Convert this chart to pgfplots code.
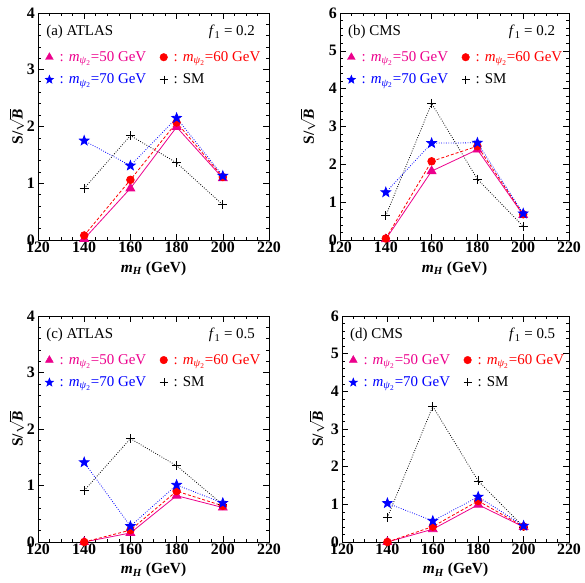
\documentclass[border=0pt]{standalone}
\usepackage{fontspec}
\setmainfont{Liberation Serif}
\usepackage{pgfplots}
\usepackage{pgfplotstable}
\pgfplotsset{compat=1.18}

% filled five-pointed star
\pgfdeclareplotmark{fstar}{%
  \pgfpathmoveto{\pgfpointpolar{90}{\pgfplotmarksize}}%
  \pgfpathlineto{\pgfpointpolar{126}{0.42\pgfplotmarksize}}%
  \pgfpathlineto{\pgfpointpolar{162}{\pgfplotmarksize}}%
  \pgfpathlineto{\pgfpointpolar{198}{0.42\pgfplotmarksize}}%
  \pgfpathlineto{\pgfpointpolar{234}{\pgfplotmarksize}}%
  \pgfpathlineto{\pgfpointpolar{270}{0.42\pgfplotmarksize}}%
  \pgfpathlineto{\pgfpointpolar{306}{\pgfplotmarksize}}%
  \pgfpathlineto{\pgfpointpolar{342}{0.42\pgfplotmarksize}}%
  \pgfpathlineto{\pgfpointpolar{18}{\pgfplotmarksize}}%
  \pgfpathlineto{\pgfpointpolar{54}{0.42\pgfplotmarksize}}%
  \pgfpathclose
  \pgfusepathqfillstroke}

% S/sqrt(B) for the four cases: mH, m_psi2 = 50, 60, 70 GeV, SM
\pgfplotstableread{
mH  tri   circ  star  sm
140 0.02  0.08  1.75  0.91
160 0.91  1.06  1.31  1.84
180 1.99  2.07  2.15  1.36
200 1.09  1.11  1.13  0.62
}\atlasA
\pgfplotstableread{
mH  tri   circ  star  sm
140 0.02  0.04  1.26  0.64
160 1.82  2.08  2.56  3.61
180 2.39  2.48  2.57  1.61
200 0.66  0.68  0.70  0.36
}\cmsA
\pgfplotstableread{
mH  tri   circ  star  sm
140 0.00  0.00  1.41  0.91
160 0.16  0.21  0.28  1.83
180 0.82  0.90  1.01  1.35
200 0.61  0.64  0.69  0.66
}\atlasB
\pgfplotstableread{
mH  tri   circ  star  sm
140 0.00  0.00  1.03  0.65
160 0.34  0.41  0.56  3.60
180 0.99  1.09  1.20  1.62
200 0.40  0.41  0.43  0.40
}\cmsB

\newcommand{\mpsi}{\textit{m}\textsubscript{\textit{ψ}\textsubscript{2}}}
\newcommand{\txt}{\fontsize{15}{17}\selectfont}
\newcommand{\lab}{\fontsize{15.5}{18}\selectfont}
\newcommand{\sep}{\hspace{3.5bp}: }

\pgfplotsset{
  panel/.style={
    scale only axis, width=231bp, height=227bp,
    xmin=120, xmax=220, xtick={120,140,...,220}, minor x tick num=3,
    ymin=0, minor y tick num=4,
    clip=false,
    tick align=inside,
    major tick length=6bp, minor tick length=3bp,
    axis line style={line width=0.8bp},
    every tick/.style={black, line width=0.6bp},
    /pgf/number format/assume math mode=true,
    tick label style={font=\fontsize{16}{18}\selectfont\bfseries},
    xticklabel style={inner sep=2bp},
    yticklabel style={inner sep=3bp},
    xlabel={\textbf{\textit{m}\textsubscript{\textit{H}} (GeV)}},
    ylabel={\textbf{S/}$\sqrt{\textbf{\textit{B}}}$},
    every axis x label/.style={at={(axis description cs:0.5,-0.125)}, anchor=center, font=\lab},
    legend image code/.code={\draw[##1] plot coordinates {(0.18cm,0cm)};},
    legend columns=2,
    legend cell align=left,
    legend style={at={(0.03,0.84)}, anchor=north west, draw=none, fill=none,
      font=\txt, row sep=7bp, inner sep=0pt,
      nodes={inner xsep=2.5bp},
      /tikz/every even column/.append style={column sep=11bp}},
  },
  ylab/.style={every axis y label/.style={at={(axis description cs:#1,0.5)}, rotate=90, anchor=center, font=\lab}},
  sTri/.style={magenta, line width=0.8bp, mark=triangle*, mark size=5bp, mark options={solid}},
  sCirc/.style={red, line width=0.8bp, dash pattern=on 3bp off 2bp, mark=*, mark size=3.8bp, mark options={solid}},
  sStar/.style={blue, line width=0.8bp, dash pattern=on 0.8bp off 1.6bp, mark=fstar, mark size=5bp, mark options={solid}},
  sSM/.style={black, line width=0.8bp, dash pattern=on 0.8bp off 1.6bp, mark=+, mark size=4.5bp, mark options={solid}},
}

\newcommand{\panelbody}[3]{%
  \addplot[sSM, forget plot] table[x=mH, y=sm] {#1};
  \addplot[sTri, forget plot] table[x=mH, y=tri] {#1};
  \addplot[sCirc, forget plot] table[x=mH, y=circ] {#1};
  \addplot[sStar, forget plot] table[x=mH, y=star] {#1};
  \addlegendimage{magenta, mark=triangle*, mark size=4.5bp}
  \addlegendentry{\textcolor{magenta}{\sep\mpsi=50 GeV}}
  \addlegendimage{red, mark=*, mark size=3.8bp}
  \addlegendentry{\textcolor{red}{\sep\mpsi=60 GeV}}
  \addlegendimage{blue, mark=fstar, mark size=4.5bp}
  \addlegendentry{\textcolor{blue}{\sep\mpsi=70 GeV}}
  \addlegendimage{black, mark=+, mark size=4bp}
  \addlegendentry{\sep SM}
  \node[anchor=west, font=\txt, inner sep=0pt] at (axis description cs:0.035,0.915) {#2};
  \node[anchor=east, font=\txt, inner sep=0pt] at (axis description cs:0.94,0.915) {\textit{f}\textsubscript{1} = #3};
}

\begin{document}
\begin{tikzpicture}
\useasboundingbox (0bp,0bp) rectangle (585bp,583bp);

\begin{axis}[panel, ylab=-0.092, at={(38bp,343bp)}, anchor=south west, ymax=4, ytick={0,1,2,3,4}]
  \panelbody{\atlasA}{(a) ATLAS}{0.2}
\end{axis}

\begin{axis}[panel, ylab=-0.140, at={(340bp,343bp)}, anchor=south west, width=229bp, ymax=6, ytick={0,1,...,6}]
  \panelbody{\cmsA}{(b) CMS}{0.2}
\end{axis}

\begin{axis}[panel, ylab=-0.092, at={(38bp,41bp)}, anchor=south west, height=226bp, ymax=4, ytick={0,1,2,3,4}]
  \panelbody{\atlasB}{(c) ATLAS}{0.5}
\end{axis}

\begin{axis}[panel, ylab=-0.110, at={(342bp,41bp)}, anchor=south west, width=227bp, height=226bp, ymax=6, ytick={0,1,...,6}]
  \panelbody{\cmsB}{(d) CMS}{0.5}
\end{axis}
\end{tikzpicture}
\end{document}
